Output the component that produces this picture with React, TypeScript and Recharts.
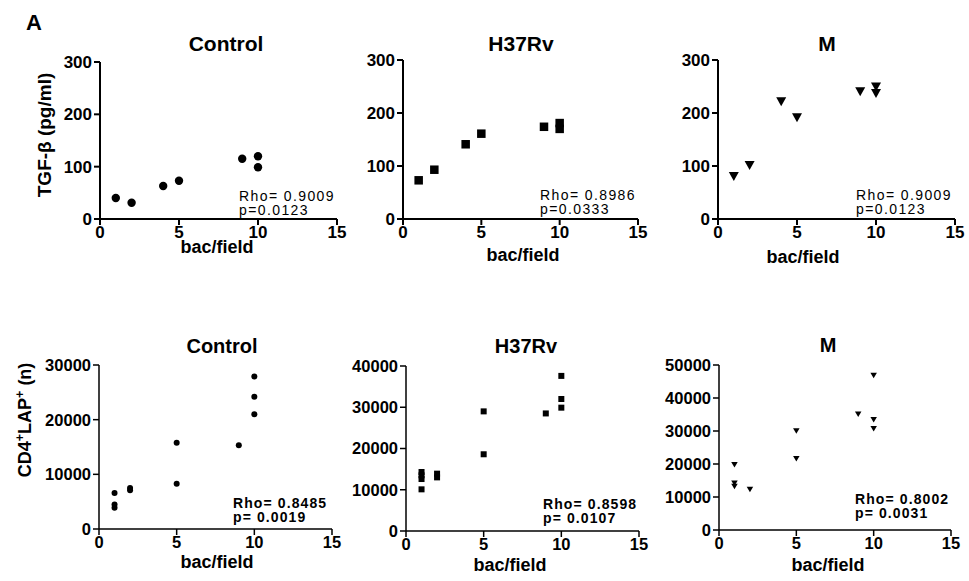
import React from 'react';
import { ScatterChart, Scatter, XAxis, YAxis } from 'recharts';

const FONT = '"Liberation Sans", Arial, Helvetica, sans-serif';

// bacteria per field (x) against TGF-beta (pg/ml)
const tgfControlX = [1, 2, 4, 5, 9, 10, 10];
const tgfControlY = [40, 31, 63, 73, 115, 120, 99];
const tgfH37X = [1, 2, 4, 5, 9, 10, 10];
const tgfH37Y = [73, 93, 141, 161, 174, 181, 170];
const tgfMX = [1, 2, 4, 5, 9, 10, 10];
const tgfMY = [80, 101, 221, 191, 240, 249, 237];

// bacteria per field (x) against CD4+LAP+ cell counts
const lapControlX = [1, 1, 1, 2, 2, 5, 5, 9, 10, 10, 10];
const lapControlY = [6600, 4500, 3900, 7100, 7500, 15800, 8300, 15300, 27900, 24200, 21000];
const lapH37X = [1, 1, 1, 1, 2, 2, 5, 5, 9, 10, 10, 10];
const lapH37Y = [10100, 12600, 13500, 14300, 13000, 13900, 29000, 18600, 28500, 37600, 32000, 29900];
const lapMX = [1, 1, 1, 2, 5, 5, 9, 10, 10, 10];
const lapMY = [19800, 14200, 13200, 12300, 30000, 21600, 35100, 46800, 33400, 30700];

const xTicks = [0, 5, 10, 15];
const tgfTicks = [0, 100, 200, 300];
const lapControlTicks = [0, 10000, 20000, 30000];
const lapH37Ticks = [0, 10000, 20000, 30000, 40000];
const lapMTicks = [0, 10000, 20000, 30000, 40000, 50000];

const toPoints = (xs: number[], ys: number[]) => xs.map((x, i) => ({ x, y: ys[i] }));

const dot = (r: number) => (p: any) => <circle cx={p.cx} cy={p.cy} r={r} fill="#000" />;
const square = (s: number) => (p: any) => (
  <rect x={p.cx - s / 2} y={p.cy - s / 2} width={s} height={s} fill="#000" />
);
const triDown = (w: number, h: number) => (p: any) => (
  <path
    d={`M${p.cx - w / 2},${p.cy - h / 2}L${p.cx + w / 2},${p.cy - h / 2}L${p.cx},${p.cy + h / 2}Z`}
    fill="#000"
  />
);

const Y_W = 80;
const TOP = 10;
const RIGHT = 15;
const X_H = 34;

interface PanelProps {
  left: number;
  top: number;
  w: number;
  h: number;
  data: { x: number; y: number }[];
  yMax: number;
  yTicks: number[];
  shape: any;
  fontSize: number;
  stroke: number;
}

function Panel({ left, top, w, h, data, yMax, yTicks, shape, fontSize, stroke }: PanelProps) {
  const tick = { fill: '#000', fontSize, fontWeight: 'bold', fontFamily: FONT };
  const line = { stroke: '#000', strokeWidth: stroke };
  return (
    <div style={{ position: 'absolute', left: left - Y_W, top: top - TOP }}>
      <ScatterChart
        width={w + Y_W + RIGHT}
        height={h + TOP + X_H}
        margin={{ top: TOP, right: RIGHT, bottom: 0, left: 0 }}
      >
        <XAxis
          type="number"
          dataKey="x"
          domain={[0, 15]}
          ticks={xTicks}
          interval={0}
          height={X_H}
          tick={tick}
          axisLine={line}
          tickLine={line}
          tickSize={6}
          tickMargin={1}
        />
        <YAxis
          type="number"
          dataKey="y"
          domain={[0, yMax]}
          ticks={yTicks}
          interval={0}
          width={Y_W}
          tick={tick}
          axisLine={line}
          tickLine={line}
          tickSize={6}
          tickMargin={2}
        />
        <Scatter data={data} shape={shape} isAnimationActive={false} />
      </ScatterChart>
    </div>
  );
}

const Centered = ({ x, y, size, children, rotate }: any) => (
  <div
    style={{
      position: 'absolute',
      left: x,
      top: y,
      transform: `translate(-50%, -50%)${rotate ? ' rotate(-90deg)' : ''}`,
      fontSize: size,
      fontWeight: 'bold',
      lineHeight: 1,
      whiteSpace: 'nowrap',
    }}
  >
    {children}
  </div>
);

const Stats = ({ x, y, rho, p, bold }: any) => (
  <div
    style={{
      position: 'absolute',
      left: x,
      top: y - 1,
      fontSize: 14,
      lineHeight: '14px',
      letterSpacing: bold ? 1.1 : 1.4,
      fontWeight: bold ? 'bold' : 'normal',
      whiteSpace: 'nowrap',
    }}
  >
    <div>{rho}</div>
    <div>{p}</div>
  </div>
);

const sup = { fontSize: '0.7em', verticalAlign: '0.55em' };

export default function App() {
  return (
    <div
      style={{
        position: 'absolute',
        left: 0,
        top: 0,
        width: 969,
        height: 581,
        background: '#fff',
        color: '#000',
        fontFamily: FONT,
        overflow: 'hidden',
      }}
    >
      <Panel left={100} top={62} w={237} h={157} data={toPoints(tgfControlX, tgfControlY)} yMax={300} yTicks={tgfTicks} shape={dot(4.2)} fontSize={17} stroke={2} />
      <Panel left={403} top={60} w={235} h={159} data={toPoints(tgfH37X, tgfH37Y)} yMax={300} yTicks={tgfTicks} shape={square(8.5)} fontSize={17} stroke={2} />
      <Panel left={718} top={60} w={237} h={159} data={toPoints(tgfMX, tgfMY)} yMax={300} yTicks={tgfTicks} shape={triDown(10, 9)} fontSize={17} stroke={2} />
      <Panel left={99} top={365} w={233} h={164} data={toPoints(lapControlX, lapControlY)} yMax={30000} yTicks={lapControlTicks} shape={dot(3)} fontSize={16.5} stroke={1.5} />
      <Panel left={406} top={366} w={233} h={165} data={toPoints(lapH37X, lapH37Y)} yMax={40000} yTicks={lapH37Ticks} shape={square(6)} fontSize={16.5} stroke={1.5} />
      <Panel left={719} top={365} w={232} h={165} data={toPoints(lapMX, lapMY)} yMax={50000} yTicks={lapMTicks} shape={triDown(6.5, 5.5)} fontSize={16.5} stroke={1.5} />

      <Centered x={34} y={23} size={22}>A</Centered>

      <Centered x={226} y={43} size={21}>Control</Centered>
      <Centered x={521} y={43} size={21}>H37Rv</Centered>
      <Centered x={827} y={43} size={21}>M</Centered>
      <Centered x={222} y={346} size={20}>Control</Centered>
      <Centered x={526} y={346} size={20}>H37Rv</Centered>
      <Centered x={828} y={345} size={20}>M</Centered>

      <Centered x={217} y={247} size={18}>bac/field</Centered>
      <Centered x={523} y={255} size={18}>bac/field</Centered>
      <Centered x={803} y={257} size={18}>bac/field</Centered>
      <Centered x={217} y={562} size={18}>bac/field</Centered>
      <Centered x={510} y={565} size={18}>bac/field</Centered>
      <Centered x={828} y={565} size={18}>bac/field</Centered>

      <Centered x={44} y={135} size={19} rotate>
        TGF-β (pg/ml)
      </Centered>
      <Centered x={24} y={420} size={18} rotate>
        CD4<span style={sup}>+</span>LAP<span style={sup}>+</span> (n)
      </Centered>

      <Stats x={239} y={190} rho="Rho= 0.9009" p="p=0.0123" />
      <Stats x={540} y={189} rho="Rho= 0.8986" p="p=0.0333" />
      <Stats x={856} y={189} rho="Rho= 0.9009" p="p=0.0123" />
      <Stats x={233} y={497} rho="Rho= 0.8485" p="p= 0.0019" bold />
      <Stats x={543} y={498} rho="Rho= 0.8598" p="p= 0.0107" bold />
      <Stats x={855} y={493} rho="Rho= 0.8002" p="p= 0.0031" bold />
    </div>
  );
}
